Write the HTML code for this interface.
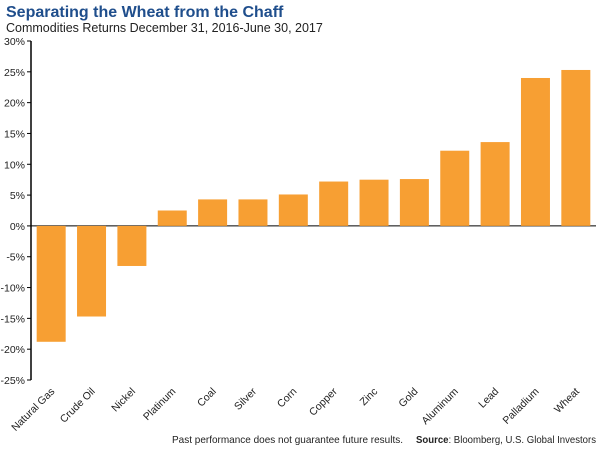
<!DOCTYPE html>
<html><head><meta charset="utf-8"><style>
body{margin:0;background:#fff;width:600px;height:449px;overflow:hidden;font-family:"Liberation Sans",sans-serif}
</style></head><body>
<svg width="600" height="449" xmlns="http://www.w3.org/2000/svg" font-family="Liberation Sans, sans-serif">
<text x="6" y="17" font-size="16" font-weight="bold" fill="#1f4e8c">Separating the Wheat from the Chaff</text>
<text x="6" y="32" font-size="12.5" fill="#222">Commodities Returns December 31, 2016-June 30, 2017</text>
<g id="yaxis"></g>
<g id="bars"></g>
<g id="xlabels"></g>
<text x="172" y="443" font-size="10.5" fill="#222" textLength="231" lengthAdjust="spacingAndGlyphs">Past performance does not guarantee future results.</text>
<text x="416" y="443" font-size="10.5" fill="#222" textLength="180" lengthAdjust="spacingAndGlyphs"><tspan font-weight="bold">Source</tspan>: Bloomberg, U.S. Global Investors</text>
</svg>
<script>
const categories=["Natural Gas","Crude Oil","Nickel","Platinum","Coal","Silver","Corn","Copper","Zinc","Gold","Aluminum","Lead","Palladium","Wheat"];
const values=[-18.8,-14.7,-6.5,2.5,4.3,4.3,5.1,7.2,7.5,7.6,12.2,13.6,24.0,25.3];
const yTicks=[30,25,20,15,10,5,0,-5,-10,-15,-20,-25];
const NS="http://www.w3.org/2000/svg";
const x0=31,x1=596,yTop=41,yBot=380,vMax=30,vMin=-25;
const y=v=>yTop+(vMax-v)/(vMax-vMin)*(yBot-yTop);
const band=(x1-x0)/categories.length;
const xc=i=>x0+band*(i+0.5);
function mk(tag,attrs,parent){const e=document.createElementNS(NS,tag);for(const k in attrs)e.setAttribute(k,attrs[k]);parent.appendChild(e);return e;}
const ya=document.getElementById('yaxis');
const ax=mk('line',{x1:x0,x2:x0,y1:yTop,y2:yBot,stroke:'#000','stroke-width':1.5},ya);


yTicks.forEach(t=>{
  const tk=mk('line',{x1:x0-4,x2:x0,y1:y(t),y2:y(t),stroke:'#000'},ya);
  
  
  const tx=mk('text',{x:x0-6,y:y(t)+4,'font-size':10.5,'text-anchor':'end',fill:'#222'},ya);
  tx.textContent=t+'%';
  
  
});
const zl=mk('line',{x1:x0,x2:x1,y1:y(0),y2:y(0),stroke:'#000','stroke-width':1},ya);


const bg=document.getElementById('bars'),xl=document.getElementById('xlabels');
const bw=29;
categories.forEach((c,i)=>{
  const v=values[i];
  const r=mk('rect',{x:xc(i)-bw/2,y:Math.min(y(v),y(0)),width:bw,height:Math.abs(y(v)-y(0)),fill:'#f79f33'},bg);
  
  
  const t=mk('text',{x:xc(i)+4,y:392,'font-size':10.5,'text-anchor':'end',fill:'#222',transform:`rotate(-45 ${xc(i)+4} 392)`},xl);
  t.textContent=c;
  
  
});
</script>
</body></html>
